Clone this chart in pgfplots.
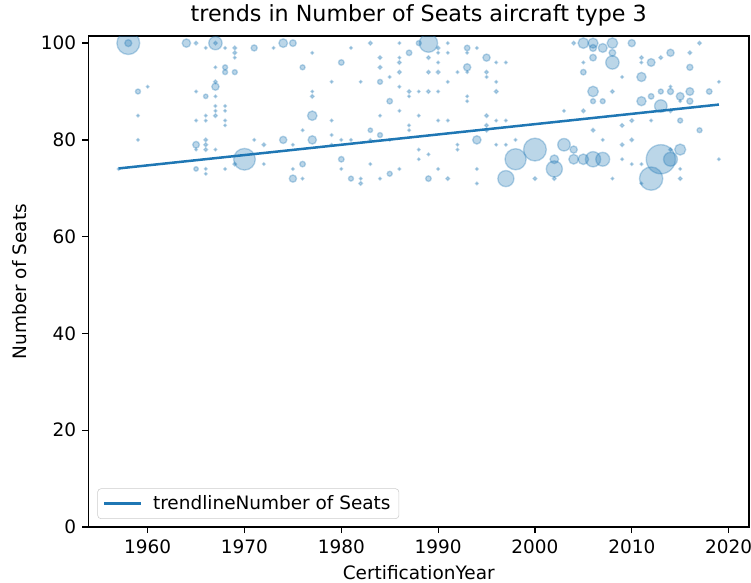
\documentclass[border=0pt]{standalone}
\usepackage{pgfplots}
\pgfplotsset{compat=1.18}
\usepackage{pgfplotstable}
\usepackage{fontspec}
\setmainfont{DejaVu Sans}
\definecolor{mplblue}{RGB}{31,119,180}
\pgfplotstableread{
x y r
1957 74 0.9
1958 100 8.2
1958 100 2.5
1959 90 1.8
1960 91 0.9
1959 85 0.9
1959 80 0.9
1964 100 3.0
1965 100 1.3
1965 90 0.9
1965 84 0.9
1965 79 2.4
1965 78 0.9
1965 74 1.6
1966 99 0.9
1966 89 1.6
1966 85 0.9
1966 84 0.9
1966 80 1.3
1966 79 1.3
1966 78 1.3
1966 74 0.9
1966 73 0.9
1967 100 4.8
1967 100 1.3
1967 95 0.9
1967 92 1.3
1967 91 2.6
1967 89 0.9
1967 87 0.9
1967 86 0.9
1967 85 1.3
1967 78 0.9
1968 99 0.9
1968 95 1.8
1968 94 1.8
1968 87 0.9
1968 86 0.9
1968 84 0.9
1968 83 0.9
1968 74 0.9
1969 99 1.3
1969 98 1.3
1969 97 0.9
1969 94 1.8
1969 75 1.3
1970 76 7.8
1971 99 2.2
1971 80 0.9
1972 79 1.3
1972 75 0.9
1973 99 0.9
1974 100 3.1
1974 80 2.6
1975 100 2.4
1975 79 0.9
1975 74 0.9
1975 72 2.6
1976 95 1.8
1976 82 0.9
1976 75 2.0
1976 72 0.9
1977 98 0.9
1977 90 0.9
1977 89 1.3
1977 85 3.4
1977 80 3.0
1979 92 0.9
1979 84 0.9
1979 81 0.9
1979 79 0.9
1980 96 2.0
1980 80 0.9
1980 76 2.0
1980 74 0.9
1981 99 0.9
1981 80 0.9
1981 72 1.8
1982 92 0.9
1982 72 0.9
1982 71 1.3
1983 100 1.3
1983 82 1.6
1983 80 0.9
1983 75 0.9
1984 97 1.3
1984 95 1.3
1984 92 1.8
1984 85 0.9
1984 81 1.8
1984 72 0.9
1985 93 0.9
1985 88 2.0
1985 80 0.9
1985 73 1.8
1986 100 0.9
1986 97 0.9
1986 96 1.3
1986 94 1.3
1986 91 0.9
1986 86 0.9
1986 74 0.9
1987 98 2.0
1987 90 1.3
1987 89 0.9
1987 83 0.9
1987 82 0.9
1988 100 1.8
1988 90 0.9
1988 85 0.9
1988 78 0.9
1988 76 0.9
1989 100 6.6
1989 97 1.3
1989 94 1.3
1989 90 1.3
1989 77 0.9
1989 72 2.0
1990 99 1.3
1990 98 0.9
1990 96 0.9
1990 94 1.3
1990 90 0.9
1990 84 0.9
1990 74 0.9
1991 100 0.9
1991 98 0.9
1991 92 0.9
1991 84 0.9
1991 72 1.3
1992 94 0.9
1992 79 0.9
1992 78 0.9
1993 99 2.0
1993 98 0.9
1993 95 2.6
1993 94 0.9
1993 89 0.9
1993 88 0.9
1994 99 0.9
1994 80 3.0
1994 74 0.9
1994 71 0.9
1995 97 2.6
1995 94 1.3
1995 93 0.9
1995 85 1.3
1995 83 1.3
1995 82 1.3
1996 96 0.9
1996 92 0.9
1996 90 1.3
1996 84 0.9
1996 79 0.9
1997 96 0.9
1997 84 0.9
1997 79 0.9
1997 72 5.8
1998 80 0.9
1998 76 7.6
2000 78 8.2
2000 72 1.3
2002 76 3.1
2002 74 5.8
2002 72 1.3
2003 86 0.9
2003 79 4.5
2004 100 1.3
2004 78 2.6
2004 76 3.5
2005 100 3.8
2005 96 0.9
2005 94 2.0
2005 86 1.3
2005 76 3.8
2006 100 3.6
2006 99 2.5
2006 97 2.4
2006 90 3.8
2006 88 1.8
2006 82 1.3
2006 76 5.5
2007 99 3.2
2007 88 1.8
2007 80 0.9
2007 76 5.0
2008 100 3.8
2008 98 2.4
2008 96 4.8
2008 90 1.3
2008 72 0.9
2009 93 0.9
2009 83 1.3
2009 79 1.3
2009 76 0.9
2010 100 2.6
2010 84 1.3
2010 80 1.3
2010 75 0.9
2011 97 1.3
2011 96 0.9
2011 93 3.3
2011 88 3.3
2011 75 0.9
2011 71 0.9
2012 96 2.8
2012 89 2.0
2012 84 0.9
2012 72 8.4
2013 97 1.3
2013 90 1.8
2013 87 4.5
2013 76 10.5
2014 98 2.6
2014 91 0.9
2014 90 2.2
2014 86 1.3
2014 78 1.3
2014 76 5.0
2015 89 2.8
2015 88 0.9
2015 84 1.8
2015 78 4.0
2015 74 0.9
2015 72 1.3
2016 98 1.3
2016 95 2.2
2016 90 2.8
2016 88 2.2
2017 100 1.3
2017 82 1.8
2018 90 2.0
2019 92 0.9
2019 76 0.9
}\seats
\begin{document}
\begin{tikzpicture}
\begin{axis}[
  width=475.5pt, height=353.5pt, scale only axis,
  xmin=1953.9, xmax=2022.1, ymin=0, ymax=101.45,
  xtick={1960,1970,...,2020}, ytick={0,20,...,100},
  tick align=outside, tick pos=left, major tick length=4.4pt,
  every tick/.style={black, line width=0.9pt},
  axis line style={line width=0.9pt},
  /pgf/number format/assume math mode=true,
  /pgf/number format/1000 sep={},
  ticklabel style={font=\fontsize{13.3}{15}\selectfont},
  xticklabel style={yshift=-1pt},
  yticklabel style={xshift=-1pt},
  label style={font=\fontsize{13.3}{15}\selectfont},
  xlabel style={yshift=-1.5pt},
  ylabel style={yshift=3pt},
  title style={font=\fontsize{16}{18}\selectfont, yshift=-2pt},
  title={trends in Number of Seats aircraft type 3},
  xlabel={CertificationYear},
  ylabel={Number of Seats},
  clip marker paths=true,
  legend style={at={(0,0)}, anchor=south west, xshift=6.3pt, yshift=5.8pt,
    draw=black!20, rounded corners=2.5pt, font=\fontsize{13.3}{15}\selectfont,
    inner xsep=4pt, inner ysep=3pt},
  legend cell align=left,
  legend image code/.code={\draw[#1] (0pt,0pt) -- (26.6pt,0pt); \path[draw=none,fill=none] (33pt,0pt) circle[radius=0pt];},
]
\addplot[forget plot, only marks, mark=*, scatter,
  scatter/use mapped color={draw=mplblue, fill=mplblue},
  mark options={fill opacity=0.3, draw opacity=0.3, line width=1pt},
  visualization depends on={\thisrow{r} \as \rr},
  scatter/@pre marker code/.append style={/tikz/mark size=\rr}]
  table[x=x, y=y, meta=y] {\seats};
\addplot[mplblue, line width=1.8pt, no marks] coordinates {(1957,74.1) (2019,87.3)};
\addlegendentry{trendlineNumber of Seats}
\end{axis}
\pgfresetboundingbox
\path[use as bounding box] ([xshift=-63.8pt,yshift=-40.3pt]current axis.south west) rectangle ([xshift=1.5pt,yshift=26pt]current axis.north east);
\end{tikzpicture}
\end{document}
